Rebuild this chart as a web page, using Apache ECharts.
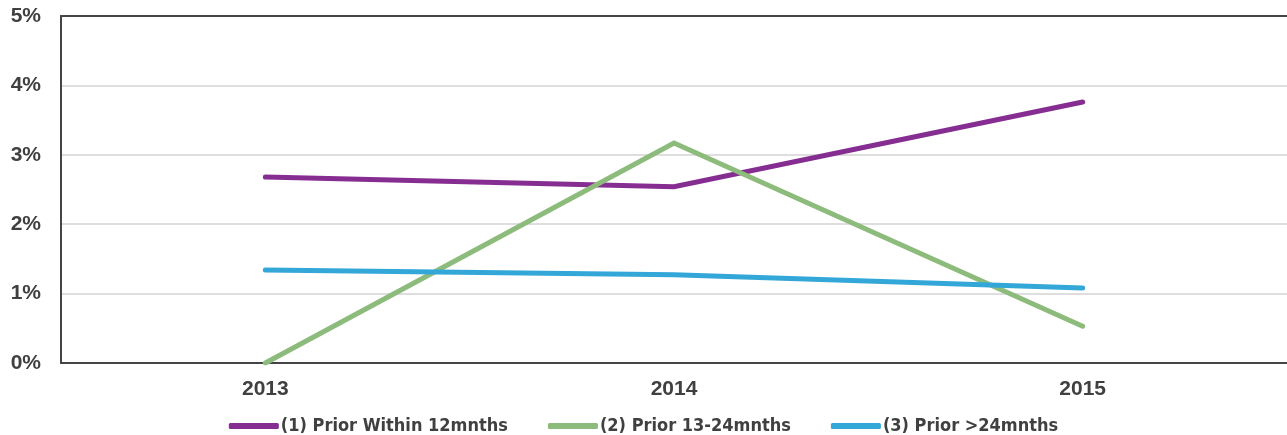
<!DOCTYPE html>
<html>
<head>
<meta charset="utf-8">
<script src="https://cdn.jsdelivr.net/npm/echarts@6/dist/echarts.min.js"></script>
<style>
  html, body { margin: 0; padding: 0; background: #fff; }
  #chart { width: 1287px; height: 435px; }
</style>
</head>
<body>
<div id="chart"></div>
<script>
// Years on the category axis
const years = ['2013', '2014', '2015'];

// Rates (percent) for each prior-period group
const priorWithin12 = [2.68, 2.54, 3.76];
const prior13to24 = [0.0, 3.17, 0.53];
const priorOver24 = [1.34, 1.27, 1.08];

const seriesNames = ['(1) Prior Within 12mnths', '(2) Prior 13-24mnths', '(3) Prior >24mnths'];
const seriesColors = ['#862d91', '#8cbb7b', '#33a7d8'];
const seriesData = [priorWithin12, prior13to24, priorOver24];

const yTicks = { min: 0, max: 5, interval: 1 };

const axisFont = {
  fontFamily: 'Liberation Sans',
  fontWeight: 'bold',
  fontSize: 21,
  color: '#404040'
};

const chart = echarts.init(document.getElementById('chart'));

chart.setOption({
  animation: false,
  backgroundColor: '#ffffff',
  grid: { left: 61, right: 0, top: 16, bottom: 72 },
  legend: {
    bottom: -5,
    left: 'center',
    itemWidth: 50,
    itemHeight: 6,
    itemGap: 40,
    icon: 'roundRect',
    textStyle: {
      fontFamily: '"DejaVu Sans Condensed", sans-serif',
      fontWeight: 'bold',
      fontSize: 18,
      color: '#404040',
      padding: [0, 0, 0, -3]
    },
    data: seriesNames
  },
  xAxis: [
    {
      type: 'category',
      data: years,
      boundaryGap: true,
      axisLine: { lineStyle: { color: '#454545', width: 2 } },
      axisTick: { show: false },
      axisLabel: Object.assign({ margin: 16 }, axisFont)
    },
    {
      // plain frame line along the top of the plot
      type: 'category',
      data: years,
      position: 'top',
      axisLine: { lineStyle: { color: '#454545', width: 2 } },
      axisTick: { show: false },
      axisLabel: { show: false },
      splitLine: { show: false }
    }
  ],
  yAxis: {
    type: 'value',
    min: yTicks.min,
    max: yTicks.max,
    interval: yTicks.interval,
    axisLine: { show: true, lineStyle: { color: '#454545', width: 2 } },
    axisTick: { show: false },
    splitLine: { lineStyle: { color: '#d3d3d3', width: 1.5 } },
    axisLabel: Object.assign({ margin: 20, formatter: v => v + '%' }, axisFont)
  },
  series: seriesNames.map((name, i) => ({
    name: name,
    type: 'line',
    xAxisIndex: 0,
    data: seriesData[i],
    showSymbol: false,
    symbol: 'none',
    color: seriesColors[i],
    lineStyle: { color: seriesColors[i], width: 5, cap: 'round', join: 'miter' }
  }))
});
</script>
</body>
</html>
